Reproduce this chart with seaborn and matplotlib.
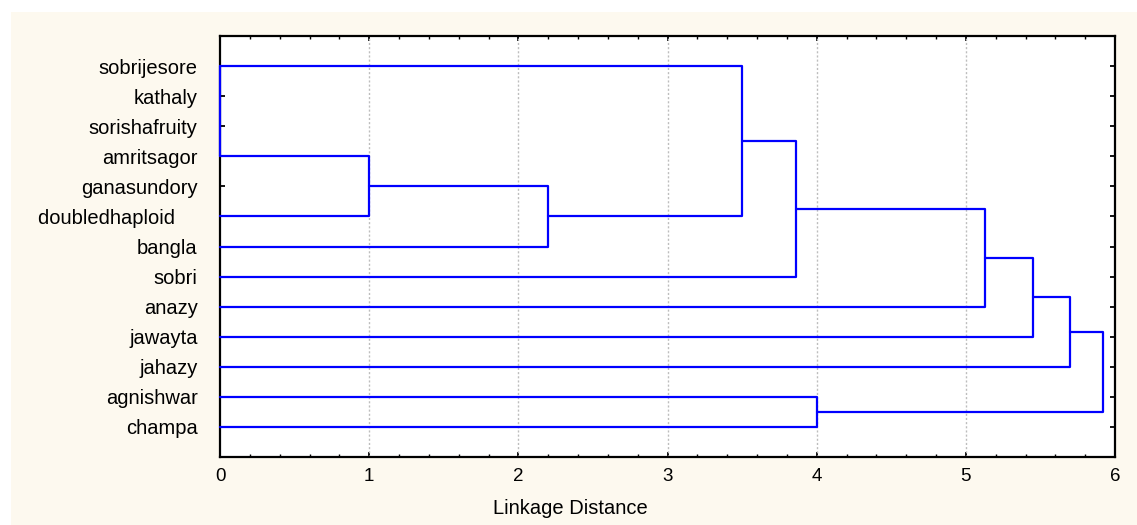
import matplotlib
matplotlib.use('Agg')
import matplotlib.pyplot as plt
import pandas as pd
import seaborn as sns
from matplotlib.patches import Rectangle
from matplotlib.ticker import MultipleLocator

# folhas do dendrograma (de cima para baixo)
folhas = ['sobrijesore', 'kathaly', 'sorishafruity', 'amritsagor', 'ganasundory',
          'doubledhaploid    ', 'bangla', 'sobri', 'anazy', 'jawayta', 'jahazy',
          'agnishwar', 'champa']

# uniões: no_a, no_b, distancia (nós 0..12 são folhas, 13.. são as uniões)
uniao_a = [3, 13, 0, 15, 16, 17, 18, 11, 19]
uniao_b = [5, 6, 14, 7, 8, 9, 10, 12, 20]
distancia = [1.00, 2.20, 3.50, 3.86, 5.13, 5.45, 5.70, 4.00, 5.92]

# ligação de distância zero desenhada sobre o eixo
zero_de, zero_ate = 'sobrijesore', 'amritsagor'

x_ticks = [0, 1, 2, 3, 4, 5, 6]

# posições y e alturas de cada nó
pos_y = {i: i + 1 for i in range(len(folhas))}
altura = {i: 0.0 for i in range(len(folhas))}

linhas = []
for k, (a, b, h) in enumerate(zip(uniao_a, uniao_b, distancia)):
    no = len(folhas) + k
    pts = [(altura[a], pos_y[a]), (h, pos_y[a]), (h, pos_y[b]), (altura[b], pos_y[b])]
    for x, y in pts:
        linhas.append({'seg': k, 'x': x, 'y': y})
    pos_y[no] = (pos_y[a] + pos_y[b]) / 2
    altura[no] = h

y0 = folhas.index(zero_de) + 1
y1 = folhas.index(zero_ate) + 1
linhas.append({'seg': 99, 'x': 0.0, 'y': y0})
linhas.append({'seg': 99, 'x': 0.0, 'y': y1})
dados = pd.DataFrame(linhas)

sns.set_style('ticks')
plt.rcParams['font.family'] = ['Liberation Sans', 'DejaVu Sans']

fig = plt.figure(figsize=(11.37, 5.25), dpi=100, facecolor='white')
fig.patches.append(Rectangle((11 / 1137, 0), 1 - 11 / 1137, 1 - 12 / 525,
                             transform=fig.transFigure, facecolor='#fdf9ef',
                             edgecolor='none', zorder=-10))
ax = fig.add_axes([220 / 1137, 68 / 525, 895 / 1137, 421 / 525])
ax.set_zorder(5)
ax.set_facecolor('white')

for xv in x_ticks[1:-1]:
    ax.axvline(xv, color='#bdbdbd', lw=1.0, ls=(0, (1.5, 1.5)), zorder=1)

sns.lineplot(data=dados, x='x', y='y', units='seg', estimator=None, sort=False,
             color='#0000ff', lw=1.6, ax=ax, zorder=3, legend=False)
for ln in ax.lines:
    ln.set_clip_on(False)

ax.set_xlim(0, 6)
ax.set_ylim(14, 0)
ax.set_xticks(x_ticks)
ax.xaxis.set_minor_locator(MultipleLocator(0.2))
ax.set_yticks(range(1, len(folhas) + 1))
ax.set_yticklabels(folhas, fontsize=14.5)
ax.tick_params(axis='y', direction='in', length=3.5, width=1.3, pad=16,
               left=True, right=True, colors='black', labelcolor='black')
ax.tick_params(axis='x', which='major', direction='in', length=3.5, width=1.3,
               pad=8, labelsize=13.5, top=True, bottom=True,
               colors='black', labelcolor='black')
ax.tick_params(axis='x', which='minor', direction='in', length=2, width=1.0,
               top=True, bottom=True, colors='black')

for s in ax.spines.values():
    s.set_visible(True)
    s.set_color('black')
    s.set_linewidth(1.6)

ax.set_xlabel('Linkage Distance', fontsize=14.5, color='black')
ax.set_ylabel('')
ax.xaxis.set_label_coords((570 - 220) / 895, (457 - 509) / 421)
ax.xaxis.label.set_va('center')

fig.savefig('out.png', dpi=100, facecolor=fig.get_facecolor())
